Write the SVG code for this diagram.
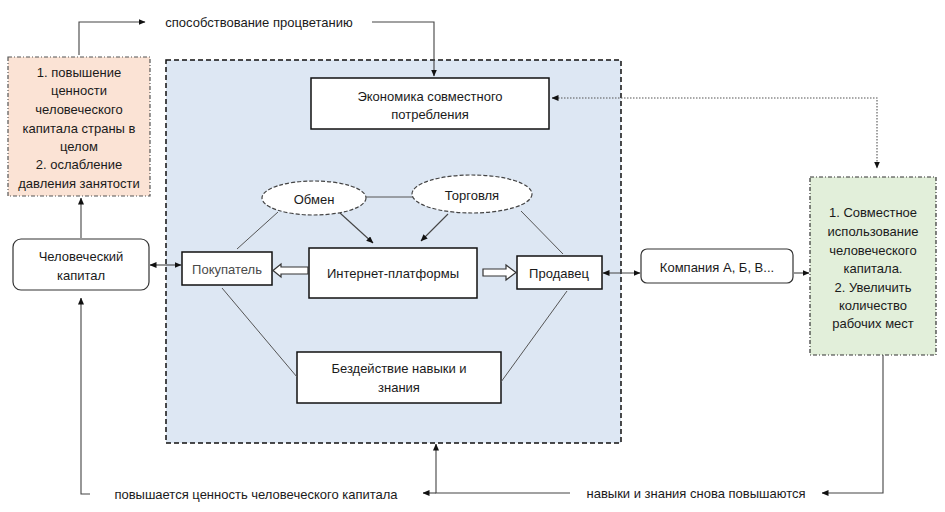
<svg xmlns="http://www.w3.org/2000/svg" width="945" height="512" viewBox="0 0 945 512">
<defs>
<marker id="ah" markerWidth="7" markerHeight="6" refX="6.5" refY="3" orient="auto" markerUnits="userSpaceOnUse">
<path d="M0,0 L7,3 L0,6 Z" fill="#111"/>
</marker>
<marker id="ahs" markerWidth="7" markerHeight="6" refX="0.5" refY="3" orient="auto" markerUnits="userSpaceOnUse">
<path d="M7,0 L0,3 L7,6 Z" fill="#111"/>
</marker>
</defs>
<style>
text{font-family:"Liberation Sans",Arial,sans-serif;font-size:13px;fill:#1a1a1a;text-anchor:middle;dominant-baseline:central}
.box{fill:#fff;stroke:#111;stroke-width:1.5}
.rbox{fill:#fff;stroke:#333;stroke-width:1.2}
.ell{fill:#fff;stroke:#444;stroke-width:1.2;stroke-dasharray:4,2}
.ln{fill:none;stroke:#555;stroke-width:1}
.ar{fill:none;stroke:#444;stroke-width:1.1}
.dot{fill:none;stroke:#555;stroke-width:1.1;stroke-dasharray:1.5,1.5}
.hol{fill:#fff;stroke:#333;stroke-width:1.2}
</style>
<g id="platform-area">
<rect x="166" y="60" width="455" height="383" fill="#dde7f3" stroke="#111" stroke-width="1.5" stroke-dasharray="5,3"/>
</g>
<g id="orange-box">
<rect x="8" y="57" width="142" height="139" fill="#fbe3d5" stroke="#555" stroke-width="1.2" stroke-dasharray="4,2,1,2"/>
<text x="79" y="72">1. повышение</text>
<text x="79" y="90">ценности</text>
<text x="79" y="109">человеческого</text>
<text x="79" y="128">капитала страны в</text>
<text x="79" y="146">целом</text>
<text x="79" y="164">2. ослабление</text>
<text x="79" y="183">давления занятости</text>
</g>
<g id="green-box">
<rect x="810" y="177" width="126" height="178" fill="#e2efda" stroke="#333" stroke-width="1.2" stroke-dasharray="4,2,1,2"/>
<text x="873" y="212">1. Совместное</text>
<text x="873" y="231">использование</text>
<text x="873" y="250">человеческого</text>
<text x="873" y="268">капитала.</text>
<text x="873" y="287">2. Увеличить</text>
<text x="873" y="305">количество</text>
<text x="873" y="323">рабочих мест</text>
</g>
<g id="economy">
<rect class="box" x="311" y="78" width="238" height="51"/>
<text x="430" y="96">Экономика совместного</text>
<text x="430" y="114">потребления</text>
</g>
<g id="exchange">
<ellipse class="ell" cx="314" cy="198" rx="52" ry="17"/>
<text x="314" y="199">Обмен</text>
</g>
<g id="trade">
<ellipse class="ell" cx="472" cy="194" rx="60" ry="19"/>
<text x="472" y="195">Торговля</text>
</g>
<g id="internet">
<rect class="box" x="309" y="248" width="168" height="50"/>
<text x="393" y="273">Интернет-платформы</text>
</g>
<g id="buyer">
<rect class="box" x="182" y="252" width="90" height="33"/>
<text x="227" y="269" style="fill:#4a4a4a">Покупатель</text>
</g>
<g id="seller">
<rect class="box" x="517" y="256" width="85" height="33"/>
<text x="559" y="273">Продавец</text>
</g>
<g id="idle">
<rect class="box" x="297" y="352" width="204" height="51"/>
<text x="399" y="368">Бездействие навыки и</text>
<text x="399" y="387">знания</text>
</g>
<g id="human-capital">
<rect class="rbox" x="13" y="239" width="136" height="51" rx="8"/>
<text x="81" y="256">Человеческий</text>
<text x="81" y="275">капитал</text>
</g>
<g id="company">
<rect class="rbox" x="641" y="249" width="152" height="34" rx="6"/>
<text x="717" y="267">Компания А, Б, В...</text>
</g>
<g id="labels">
<text x="259" y="22">способствование процветанию</text>
<text x="256" y="494">повышается ценность человеческого капитала</text>
<text x="696" y="493">навыки и знания снова повышаются</text>
</g>
<g id="connectors">
<path class="ar" d="M79,55 V22 H145" marker-end="url(#ah)"/>
<path class="ar" d="M372,22 H434 V76" marker-end="url(#ah)"/>
<path class="dot" d="M552,98 H877 V168" marker-start="url(#ahs)" marker-end="url(#ah)"/>
<path class="ar" d="M81,238 V198" marker-end="url(#ah)"/>
<path class="ar" d="M150,265 H181" marker-start="url(#ahs)" marker-end="url(#ah)"/>
<path class="ar" d="M603,273 H640" marker-start="url(#ahs)" marker-end="url(#ah)"/>
<path class="ar" d="M794,273 H809" marker-end="url(#ah)"/>
<path class="ar" d="M883,355 V493 H822" marker-end="url(#ah)"/>
<path class="ar" d="M570,493 H436 V444" marker-end="url(#ah)"/>
<path class="ar" d="M436,493 H423" marker-end="url(#ah)"/>
<path class="ar" d="M90,494 H81 V298" marker-end="url(#ah)"/>
<path class="ln" d="M366,197 H413"/>
<path class="ar" d="M340,213 L373,243" marker-end="url(#ah)"/>
<path class="ar" d="M448,214 L421,241" marker-end="url(#ah)"/>
<path class="ln" d="M278,212 L237,249"/>
<path class="ln" d="M521,211 L563,254"/>
<path class="ln" d="M222,288 L297,377"/>
<path class="ln" d="M567,291 L501,382"/>
<path class="hol" d="M308,267 H281 V264 L273,270.5 L281,277 V274 H308 Z"/>
<path class="hol" d="M483,269 H506 V265 L516,272.5 L506,280 V276 H483 Z"/>
</g>
</svg>
